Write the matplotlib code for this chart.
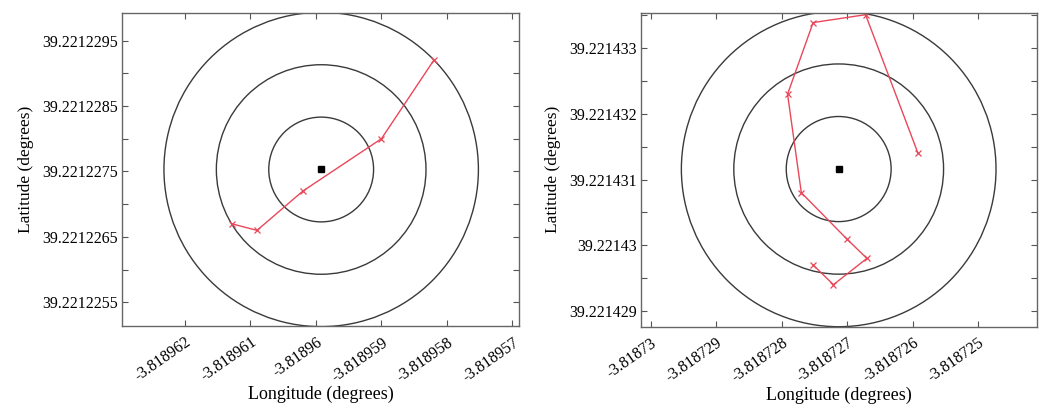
import matplotlib
matplotlib.use("Agg")
import matplotlib.pyplot as plt
from matplotlib.patches import Circle
import numpy as np

plt.rcParams['font.family'] = ['Liberation Serif', 'DejaVu Serif']

# left panel: fixes around the reference point
lon_a = [-3.81896128, -3.8189609, -3.8189602, -3.818959, -3.8189582]
lat_a = [39.2212267, 39.2212266, 39.2212272, 39.221228, 39.2212292]
center_a = (-3.81895992, 39.22122753)
xt_a = [-3.818962, -3.818961, -3.81896, -3.818959, -3.818958, -3.818957]
xl_a = ["-3.818962", "-3.818961", "-3.81896", "-3.818959", "-3.818958", "-3.818957"]
yt_a = [39.2212295, 39.2212285, 39.2212275, 39.2212265, 39.2212255]
yl_a = ["39.2212295", "39.2212285", "39.2212275", "39.2212265", "39.2212255"]
xlim_a = (-3.81896296, -3.8189569)
ylim_a = (39.22122514, 39.22122992)

# right panel
lon_b = [-3.81872592, -3.81872672, -3.81872752, -3.81872791, -3.8187277,
         -3.81872701, -3.8187267, -3.81872721, -3.81872752]
lat_b = [39.2214314, 39.22143351, 39.22143339, 39.2214323, 39.2214308,
         39.2214301, 39.2214298, 39.2214294, 39.2214297]
center_b = (-3.81872713, 39.22143116)
xt_b = [-3.81873, -3.818729, -3.818728, -3.818727, -3.818726, -3.818725]
xl_b = ["-3.81873", "-3.818729", "-3.818728", "-3.818727", "-3.818726", "-3.818725"]
yt_b = [39.221433, 39.221432, 39.221431, 39.22143, 39.221429]
yl_b = ["39.221433", "39.221432", "39.221431", "39.22143", "39.221429"]
xlim_b = (-3.81873015, -3.8187241)
ylim_b = (39.22142876, 39.22143354)

radii = [0.8e-6, 1.6e-6, 2.4e-6]

fig = plt.figure(figsize=(10.42, 4.05), dpi=100)
ax1 = fig.add_axes([0.1171, 0.1951, 0.381, 0.7728])
ax2 = fig.add_axes([0.6149, 0.1933, 0.3806, 0.7753])


def draw(ax, lon, lat, center, xt, xl, yt, yl, xlim, ylim, ylab_x):
    for r in radii:
        ax.add_patch(Circle(center, r, fill=False, edgecolor="#3a3a3a", lw=1.0))
    ax.plot(lon, lat, color="#e8485a", lw=1.0, marker="x", ms=5, mew=0.9)
    ax.plot(center[0], center[1], marker="s", color="black", ms=5, ls="none")
    ax.set_xlim(xlim)
    ax.set_ylim(ylim)
    ax.set_xticks(xt)
    ax.set_xticklabels(xl, rotation=35, ha="right", rotation_mode="anchor",
                       fontsize=11.5)
    ax.set_yticks(yt)
    ax.set_yticklabels(yl, fontsize=11.5)
    step = yt[0] - yt[1]
    minor = [v - step / 2 for v in yt] + [yt[0] + step / 2]
    ax.set_yticks([m for m in minor if ylim[0] < m < ylim[1]], minor=True)
    ax.tick_params(which="both", direction="in", top=True, right=True,
                   length=4, width=0.8, color="#555555")
    ax.tick_params(axis="x", pad=6)
    ax.tick_params(axis="y", pad=3)
    for s in ax.spines.values():
        s.set_color("#666666")
        s.set_linewidth(1.0)
    ax.set_xlabel("Longitude (degrees)", fontsize=13)
    ax.xaxis.set_label_coords(0.5, -0.19)
    ax.set_ylabel("Latitude (degrees)", fontsize=12.5)
    ax.yaxis.set_label_coords(ylab_x, 0.5)


draw(ax1, lon_a, lat_a, center_a, xt_a, xl_a, yt_a, yl_a, xlim_a, ylim_a, -0.222)
draw(ax2, lon_b, lat_b, center_b, xt_b, xl_b, yt_b, yl_b, xlim_b, ylim_b, -0.2)

fig.savefig("out.png", dpi=100)
